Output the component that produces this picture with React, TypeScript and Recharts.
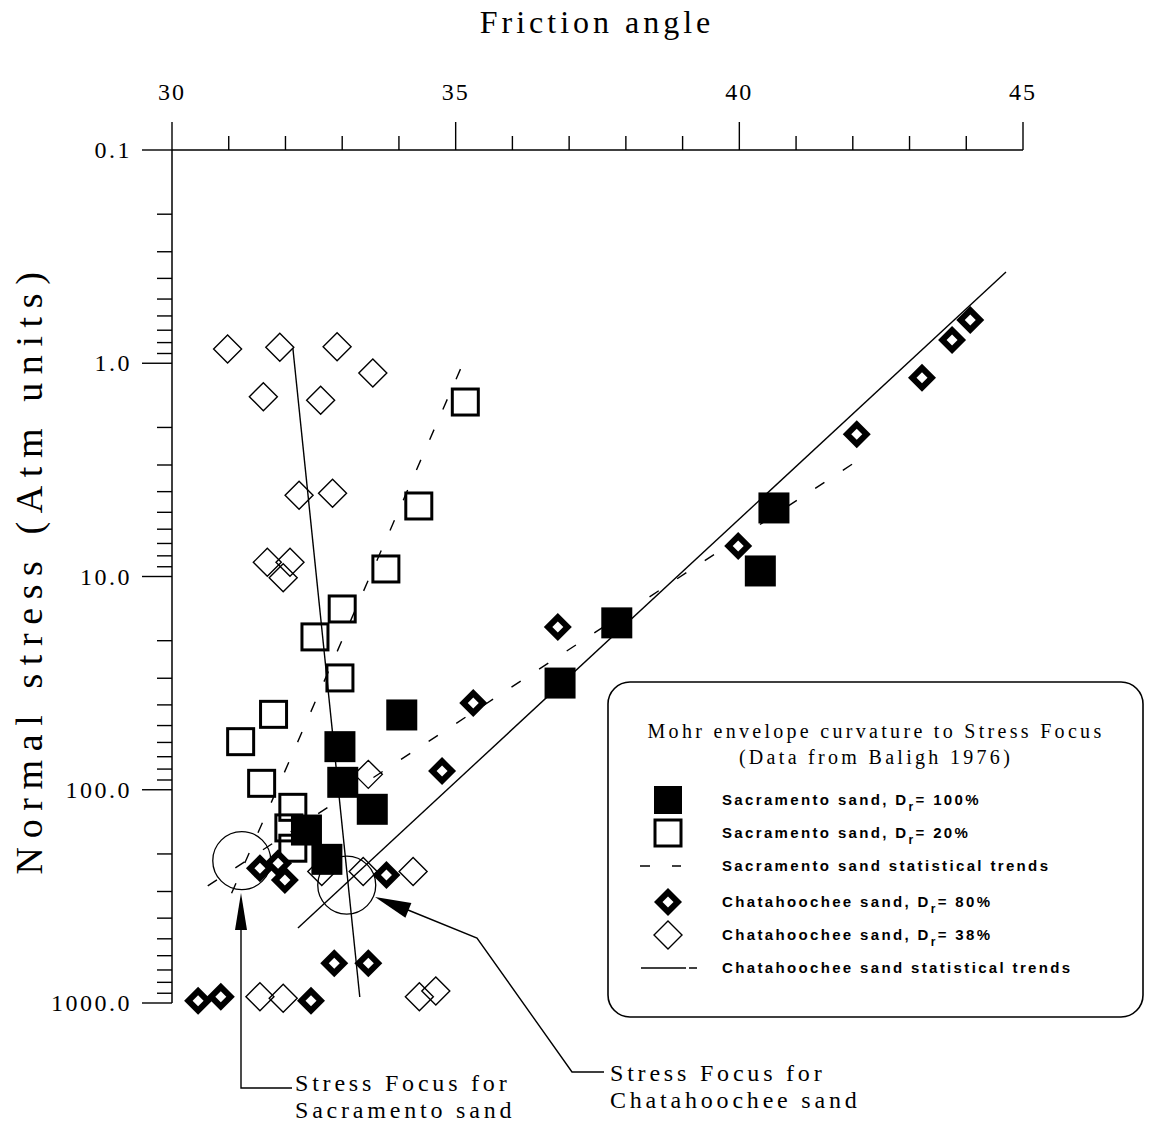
import React from "react";
import { ScatterChart, Scatter, XAxis, YAxis, ReferenceLine, ReferenceDot } from "recharts";

const serif = '"Liberation Serif", "Times New Roman", serif';
const sans = '"Liberation Sans", Arial, sans-serif';

// friction angle (deg) vs normal stress (atm)
const sacramento100 = [
  { x: 40.61, y: 4.77 },
  { x: 40.37, y: 9.42 },
  { x: 37.84, y: 16.5 },
  { x: 36.84, y: 31.6 },
  { x: 34.05, y: 44.6 },
  { x: 32.96, y: 62.8 },
  { x: 33.01, y: 92.3 },
  { x: 33.53, y: 123.5 },
  { x: 32.37, y: 154.5 },
  { x: 32.73, y: 212 },
];

const sacramento20 = [
  { x: 35.17, y: 1.52 },
  { x: 34.35, y: 4.67 },
  { x: 33.77, y: 9.22 },
  { x: 33.0, y: 14.2 },
  { x: 32.52, y: 19.2 },
  { x: 32.96, y: 29.9 },
  { x: 31.79, y: 44.3 },
  { x: 31.21, y: 59.5 },
  { x: 31.58, y: 93.3 },
  { x: 32.13, y: 120.9 },
  { x: 32.06, y: 151 },
  { x: 32.13, y: 188 },
];

const chatahoochee80 = [
  { x: 44.07, y: 0.627 },
  { x: 43.75, y: 0.778 },
  { x: 43.22, y: 1.17 },
  { x: 42.07, y: 2.15 },
  { x: 39.98, y: 7.19 },
  { x: 36.8, y: 17.25 },
  { x: 35.31, y: 39.2 },
  { x: 34.76, y: 81.7 },
  { x: 31.55, y: 233.6 },
  { x: 31.87, y: 221 },
  { x: 31.99, y: 265 },
  { x: 33.78, y: 251 },
  { x: 32.86, y: 651 },
  { x: 33.46, y: 651 },
  { x: 30.46, y: 975 },
  { x: 30.86, y: 934 },
  { x: 32.45, y: 975 },
];

const chatahoochee38 = [
  { x: 30.98, y: 0.858 },
  { x: 31.9, y: 0.842 },
  { x: 32.91, y: 0.836 },
  { x: 33.54, y: 1.11 },
  { x: 31.61, y: 1.435 },
  { x: 32.62, y: 1.49 },
  { x: 32.24, y: 4.16 },
  { x: 32.83, y: 4.07 },
  { x: 31.68, y: 8.58 },
  { x: 32.08, y: 8.58 },
  { x: 31.96, y: 10.13 },
  { x: 33.46, y: 84.7 },
  { x: 32.64, y: 241.8 },
  { x: 33.37, y: 241.8 },
  { x: 34.25, y: 241.8 },
  { x: 31.55, y: 934 },
  { x: 31.96, y: 951 },
  { x: 34.36, y: 934 },
  { x: 34.65, y: 878.5 },
];

// statistical trend lines (end points)
const sacTrends = [
  [{ x: 31.05, y: 306 }, { x: 35.17, y: 0.945 }],
  [{ x: 30.63, y: 282.5 }, { x: 42.13, y: 2.81 }],
];
const chatTrends = [
  [{ x: 32.13, y: 0.848 }, { x: 33.31, y: 937 }],
  [{ x: 32.22, y: 444.6 }, { x: 44.7, y: 0.373 }],
];

// stress focus points
const foci = [
  { x: 31.23, y: 215 },
  { x: 33.08, y: 280 },
];

const xTicks = [30, 31, 32, 33, 34, 35, 36, 37, 38, 39, 40, 41, 42, 43, 44, 45];
const yTicks = [
  0.1, 0.2, 0.3, 0.4, 0.5, 0.6, 0.7, 0.8, 0.9,
  1, 2, 3, 4, 5, 6, 7, 8, 9,
  10, 20, 30, 40, 50, 60, 70, 80, 90,
  100, 200, 300, 400, 500, 600, 700, 800, 900,
  1000,
];
const yTickLabels: Record<string, string> = {
  "0.1": "0.1",
  "1": "1.0",
  "10": "10.0",
  "100": "100.0",
  "1000": "1000.0",
};

const legendRows = [
  { kind: "filledSquare", text: "Sacramento sand, D", sub: "r", rest: "= 100%" },
  { kind: "openSquare", text: "Sacramento sand, D", sub: "r", rest: "= 20%" },
  { kind: "dashed", text: "Sacramento sand statistical trends" },
  { kind: "thickDiamond", text: "Chatahoochee sand, D", sub: "r", rest: "= 80%" },
  { kind: "openDiamond", text: "Chatahoochee sand, D", sub: "r", rest: "= 38%" },
  { kind: "solid", text: "Chatahoochee sand statistical trends" },
];

function FilledSquare({ cx, cy }: any) {
  return <rect x={cx - 15.5} y={cy - 15.5} width={31} height={31} fill="#000" />;
}
function OpenSquare({ cx, cy }: any) {
  return <rect x={cx - 13} y={cy - 13} width={26} height={26} fill="none" stroke="#000" strokeWidth={3} />;
}
function ThickDiamond({ cx, cy }: any) {
  const o = 14;
  const i = 5.5;
  return (
    <g>
      <polygon points={`${cx},${cy - o} ${cx + o},${cy} ${cx},${cy + o} ${cx - o},${cy}`} fill="#000" />
      <polygon points={`${cx},${cy - i} ${cx + i},${cy} ${cx},${cy + i} ${cx - i},${cy}`} fill="#fff" />
    </g>
  );
}
function OpenDiamond({ cx, cy }: any) {
  const o = 14;
  return (
    <polygon
      points={`${cx},${cy - o} ${cx + o},${cy} ${cx},${cy + o} ${cx - o},${cy}`}
      fill="none"
      stroke="#000"
      strokeWidth={1.4}
    />
  );
}

function XTick(props: any) {
  const { x, y, payload } = props;
  const v = payload.value;
  const major = v % 5 === 0;
  return (
    <g>
      <line x1={x} y1={y} x2={x} y2={y - (major ? 28 : 14)} stroke="#000" strokeWidth={1.4} />
      {major && (
        <text x={x} y={y - 50} textAnchor="middle" fontFamily={serif} fontSize={24} letterSpacing={2} fill="#000">
          {v}
        </text>
      )}
    </g>
  );
}

function YTick(props: any) {
  const { x, y, payload } = props;
  const v = payload.value;
  const lg = Math.log10(v);
  const major = Math.abs(lg - Math.round(lg)) < 1e-9;
  return (
    <g>
      <line x1={x - (major ? 30 : 15)} y1={y} x2={x} y2={y} stroke="#000" strokeWidth={1.4} />
      {major && (
        <text x={x - 40} y={y + 8} textAnchor="end" fontFamily={serif} fontSize={24} letterSpacing={2.5} fill="#000">
          {yTickLabels[String(v)]}
        </text>
      )}
    </g>
  );
}

function LegendSymbol({ kind, cx, cy }: { kind: string; cx: number; cy: number }) {
  if (kind === "filledSquare") return <rect x={cx - 14} y={cy - 14} width={28} height={28} fill="#000" />;
  if (kind === "openSquare") return <OpenSquare cx={cx} cy={cy} />;
  if (kind === "thickDiamond") return <ThickDiamond cx={cx} cy={cy} />;
  if (kind === "openDiamond") return <OpenDiamond cx={cx} cy={cy} />;
  if (kind === "dashed")
    return (
      <g stroke="#000" strokeWidth={1.5}>
        <line x1={640} y1={cy} x2={650} y2={cy} />
        <line x1={672} y1={cy} x2={681} y2={cy} />
      </g>
    );
  return (
    <g stroke="#000" strokeWidth={1.5}>
      <line x1={641} y1={cy} x2={686} y2={cy} />
      <line x1={689} y1={cy} x2={697} y2={cy} />
    </g>
  );
}

function Overlay() {
  const rowY = [800, 833, 866, 902, 935, 968];
  return (
    <svg width={1154} height={1132} style={{ position: "absolute", left: 0, top: 0, pointerEvents: "none" }}>
      <text x={597} y={33} textAnchor="middle" fontFamily={serif} fontSize={32} letterSpacing={4} fill="#000">
        Friction angle
      </text>
      <text
        x={42}
        y={569}
        transform="rotate(-90 42 569)"
        textAnchor="middle"
        fontFamily={serif}
        fontSize={38}
        letterSpacing={8.6}
        fill="#000"
      >
        Normal stress (Atm units)
      </text>

      {/* legend */}
      <rect x={608} y={682} width={535} height={335} rx={22} fill="#fff" stroke="#000" strokeWidth={1.6} />
      <text x={876} y={738} textAnchor="middle" fontFamily={serif} fontSize={20} letterSpacing={3.3} fill="#000">
        Mohr envelope curvature to Stress Focus
      </text>
      <text x={876} y={764} textAnchor="middle" fontFamily={serif} fontSize={20} letterSpacing={3.3} fill="#000">
        (Data from Baligh 1976)
      </text>
      {legendRows.map((r, i) => (
        <g key={i}>
          <LegendSymbol kind={r.kind} cx={668} cy={rowY[i]} />
          <text x={722} y={rowY[i] + 5} fontFamily={sans} fontWeight="bold" fontSize={15} letterSpacing={2.35} fill="#000">
            {r.text}
            {r.sub && (
              <tspan fontSize={12} dy={6}>
                {r.sub}
              </tspan>
            )}
            {r.rest && <tspan dy={-6}>{r.rest}</tspan>}
          </text>
        </g>
      ))}

      {/* stress focus call-outs */}
      <polyline points="292,1088 241,1088 241,928" fill="none" stroke="#000" strokeWidth={1.4} />
      <polygon points="241,893 235,930 247,930" fill="#000" />
      <text x={295} y={1091} fontFamily={serif} fontSize={24} letterSpacing={3.8} fill="#000">
        Stress Focus for
      </text>
      <text x={295} y={1118} fontFamily={serif} fontSize={24} letterSpacing={3.8} fill="#000">
        Sacramento sand
      </text>

      <polyline points="604,1072 572,1072 477,938 408,910" fill="none" stroke="#000" strokeWidth={1.4} />
      <polygon points="375,897 411.4,903 405.4,917.8" fill="#000" />
      <text x={610} y={1081} fontFamily={serif} fontSize={24} letterSpacing={3.8} fill="#000">
        Stress Focus for
      </text>
      <text x={610} y={1108} fontFamily={serif} fontSize={24} letterSpacing={3.8} fill="#000">
        Chatahoochee sand
      </text>
    </svg>
  );
}

export default function App() {
  return (
    <div style={{ position: "absolute", left: 0, top: 0, width: 1154, height: 1132, background: "#fff" }}>
      <ScatterChart width={1154} height={1132} margin={{ top: 90, right: 131, bottom: 129, left: 72 }}>
        <XAxis
          type="number"
          dataKey="x"
          orientation="top"
          domain={[30, 45]}
          ticks={xTicks}
          interval={0}
          height={60}
          tickSize={0}
          tickMargin={0}
          tickLine={false}
          tick={XTick}
          axisLine={{ stroke: "#000", strokeWidth: 1.5 }}
        />
        <YAxis
          type="number"
          dataKey="y"
          scale="log"
          domain={[0.1, 1000]}
          reversed
          ticks={yTicks}
          interval={0}
          width={100}
          tickSize={0}
          tickMargin={0}
          tickLine={false}
          tick={YTick}
          axisLine={{ stroke: "#000", strokeWidth: 1.5 }}
        />
        {sacTrends.map((seg, i) => (
          <ReferenceLine
            key={"s" + i}
            segment={seg}
            stroke="#000"
            strokeWidth={1.4}
            strokeDasharray="11 22"
            ifOverflow="visible"
          />
        ))}
        {chatTrends.map((seg, i) => (
          <ReferenceLine key={"c" + i} segment={seg} stroke="#000" strokeWidth={1.4} ifOverflow="visible" />
        ))}
        {foci.map((f, i) => (
          <ReferenceDot key={"f" + i} x={f.x} y={f.y} r={29} fill="none" stroke="#000" strokeWidth={1.3} ifOverflow="visible" />
        ))}
        <Scatter data={chatahoochee38} shape={OpenDiamond} isAnimationActive={false} />
        <Scatter data={sacramento20} shape={OpenSquare} isAnimationActive={false} />
        <Scatter data={sacramento100} shape={FilledSquare} isAnimationActive={false} />
        <Scatter data={chatahoochee80} shape={ThickDiamond} isAnimationActive={false} />
      </ScatterChart>
      <Overlay />
    </div>
  );
}
